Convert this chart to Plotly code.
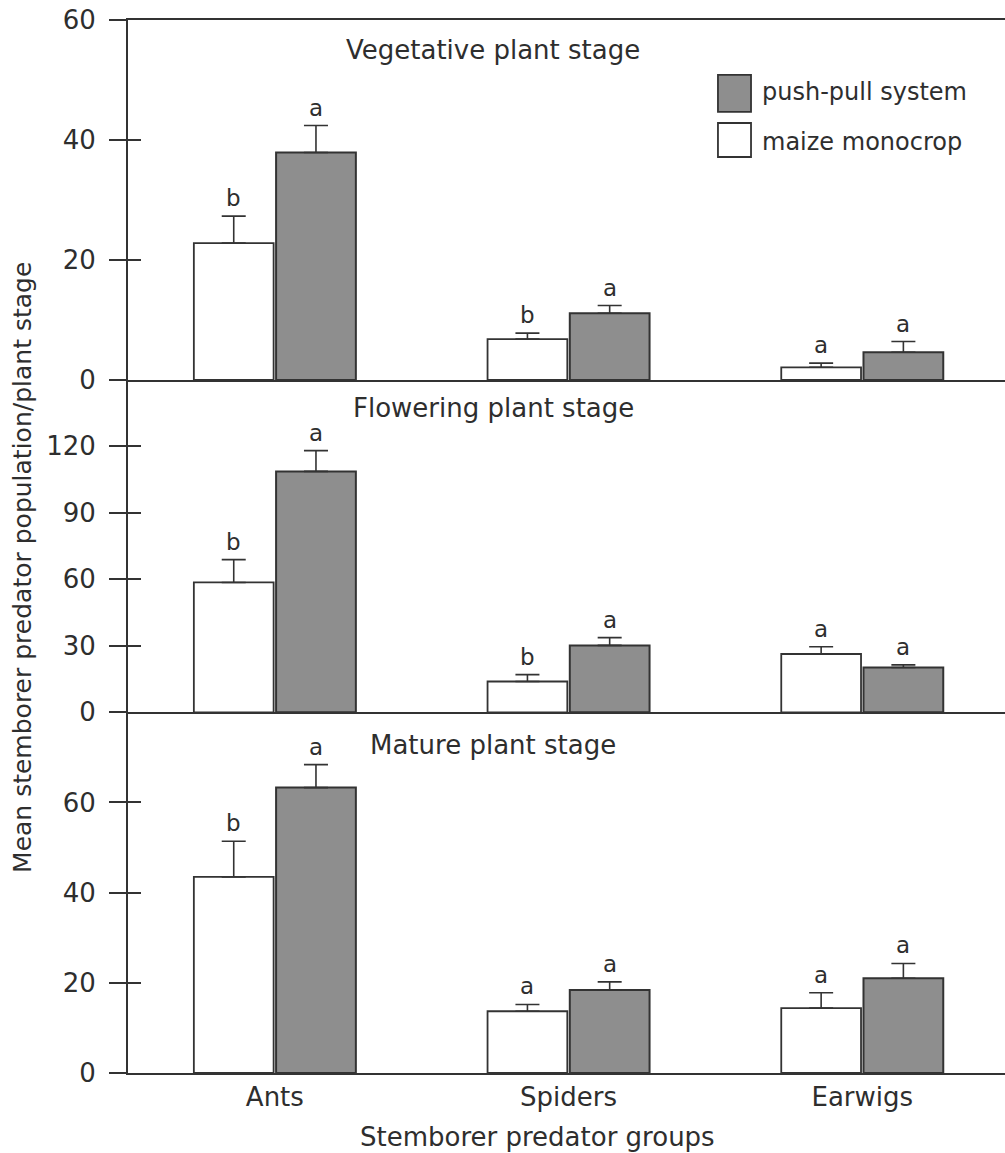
import plotly.graph_objects as go
from plotly.subplots import make_subplots

# ---------------- data ----------------
categories = ["Ants", "Spiders", "Earwigs"]
series_names = ["push-pull system", "maize monocrop"]
stage_titles = ["Vegetative plant stage", "Flowering plant stage", "Mature plant stage"]

veg_mono = [22.8, 6.8, 2.1]
veg_mono_se = [4.5, 1.0, 0.7]
veg_pp = [37.9, 11.1, 4.6]
veg_pp_se = [4.5, 1.3, 1.8]
veg_mono_letters = ["b", "b", "a"]
veg_pp_letters = ["a", "a", "a"]

flo_mono = [58.6, 13.9, 26.3]
flo_mono_se = [10.3, 3.1, 3.3]
flo_pp = [108.7, 30.2, 20.2]
flo_pp_se = [9.4, 3.5, 1.2]
flo_mono_letters = ["b", "b", "a"]
flo_pp_letters = ["a", "a", "a"]

mat_mono = [43.5, 13.7, 14.4]
mat_mono_se = [7.9, 1.5, 3.4]
mat_pp = [63.3, 18.4, 21.0]
mat_pp_se = [5.1, 1.8, 3.3]
mat_mono_letters = ["b", "a", "a"]
mat_pp_letters = ["a", "a", "a"]

y_ranges = [[0, 60], [0, 150], [0, 80]]
y_ticks = [[0, 20, 40, 60], [0, 30, 60, 90, 120], [0, 20, 40, 60]]

# ---------------- style ----------------
FONT = "DejaVu Sans"
TXT = "#2e2e2e"
LINE = "#333333"
GRAY = "#8e8e8e"
BAR_W = 0.28

panels = [
    (veg_mono, veg_mono_se, veg_pp, veg_pp_se, veg_mono_letters, veg_pp_letters),
    (flo_mono, flo_mono_se, flo_pp, flo_pp_se, flo_mono_letters, flo_pp_letters),
    (mat_mono, mat_mono_se, mat_pp, mat_pp_se, mat_mono_letters, mat_pp_letters),
]

fig = make_subplots(rows=3, cols=1, shared_xaxes=True, vertical_spacing=0,
                    row_heights=[360, 332.5, 360.8])

xpos = list(range(len(categories)))

for r, (mono, mono_se, pp, pp_se, ml, pl) in enumerate(panels, start=1):
    fig.add_trace(go.Bar(
        x=xpos, y=mono, name=series_names[1], showlegend=False,
        marker=dict(color="white", line=dict(color=LINE, width=1.8)),
        error_y=dict(type="data", symmetric=False, array=mono_se,
                     arrayminus=[0] * len(mono), color=LINE, thickness=1.6, width=12),
    ), row=r, col=1)
    fig.add_trace(go.Bar(
        x=xpos, y=pp, name=series_names[0], showlegend=False,
        marker=dict(color=GRAY, line=dict(color=LINE, width=2)),
        error_y=dict(type="data", symmetric=False, array=pp_se,
                     arrayminus=[0] * len(pp), color=LINE, thickness=1.6, width=12),
    ), row=r, col=1)
    xr = "x" if r == 1 else f"x{r}"
    yr = "y" if r == 1 else f"y{r}"
    for i in xpos:
        fig.add_annotation(x=i - BAR_W / 2, y=mono[i] + mono_se[i], xref=xr, yref=yr,
                           text=ml[i], showarrow=False, yanchor="bottom", yshift=3,
                           font=dict(family=FONT, size=23, color=TXT))
        fig.add_annotation(x=i + BAR_W / 2, y=pp[i] + pp_se[i], xref=xr, yref=yr,
                           text=pl[i], showarrow=False, yanchor="bottom", yshift=3,
                           font=dict(family=FONT, size=23, color=TXT))

fig.update_layout(
    width=1005, height=1153,
    margin=dict(l=128, r=0, t=20, b=80, autoexpand=False),
    plot_bgcolor="white", paper_bgcolor="white",
    barmode="group", bargap=0.44, bargroupgap=0.03,
    showlegend=False,
    font=dict(family=FONT, color=TXT),
)

for r in range(1, 4):
    fig.update_xaxes(range=[-0.5, 2.486], showline=True, linecolor=LINE, linewidth=2,
                     showgrid=False, zeroline=False, ticks="", automargin=False,
                     tickvals=xpos, ticktext=categories,
                     tickfont=dict(family=FONT, size=26, color=TXT),
                     mirror=(r == 1), row=r, col=1)
    fig.update_yaxes(range=y_ranges[r - 1], tickvals=y_ticks[r - 1],
                     showline=True, linecolor=LINE, linewidth=2,
                     ticks="outside", ticklen=17, tickwidth=1.6, tickcolor=LINE,
                     showgrid=False, zeroline=False, automargin=False,
                     ticklabelstandoff=8,
                     tickfont=dict(family=FONT, size=26, color=TXT),
                     row=r, col=1)

# inside tick stubs via overlaying axes
for r in range(1, 4):
    base = "y" if r == 1 else f"y{r}"
    anchor = "x" if r == 1 else f"x{r}"
    fig.update_layout(**{f"yaxis{r + 3}": dict(
        overlaying=base, anchor=anchor, side="left", automargin=False,
        range=y_ranges[r - 1], tickvals=y_ticks[r - 1],
        ticks="inside", ticklen=13, tickwidth=1.6, tickcolor=LINE,
        showticklabels=False, showline=False, showgrid=False, zeroline=False)})
    fig.add_trace(go.Scatter(x=[None], y=[None], xaxis=anchor, yaxis=f"y{r + 3}",
                             showlegend=False, hoverinfo="skip"))

# panel titles
title_y = [0.9715, 0.6316, 0.3118]
for t, yy in zip(stage_titles, title_y):
    fig.add_annotation(x=0.4162, y=yy, xref="paper", yref="paper", text=t,
                       showarrow=False, xanchor="center", yanchor="middle",
                       font=dict(family=FONT, size=26, color=TXT))

# legend (custom large swatches)
legend_items = [(series_names[0], GRAY, 0.9478, 0.9127, 0.9316),
                (series_names[1], "white", 0.9022, 0.8699, 0.8842)]
for name, col, y1, y0, yc in legend_items:
    fig.add_shape(type="rect", xref="paper", yref="paper", x0=0.6727, x1=0.7104,
                  y0=y0, y1=y1, fillcolor=col, line=dict(color=LINE, width=1.8))
    fig.add_annotation(x=0.7206, y=yc, xref="paper", yref="paper", text=name,
                       showarrow=False, xanchor="left", yanchor="middle",
                       font=dict(family=FONT, size=24, color=TXT))

# axis titles
fig.add_annotation(x=-0.1197, y=0.4797, xref="paper", yref="paper",
                   text="Mean stemborer predator population/plant stage",
                   textangle=-90, showarrow=False, xanchor="center", yanchor="middle",
                   font=dict(family=FONT, size=25, color=TXT))
fig.add_annotation(x=0.4664, y=-0.0605, xref="paper", yref="paper",
                   text="Stemborer predator groups", showarrow=False,
                   xanchor="center", yanchor="middle",
                   font=dict(family=FONT, size=26, color=TXT))

fig.write_html(
    "out.html",
    config={"displayModeBar": False},
    post_script="document.body.style.margin='0';document.body.style.overflow='hidden';",
)
